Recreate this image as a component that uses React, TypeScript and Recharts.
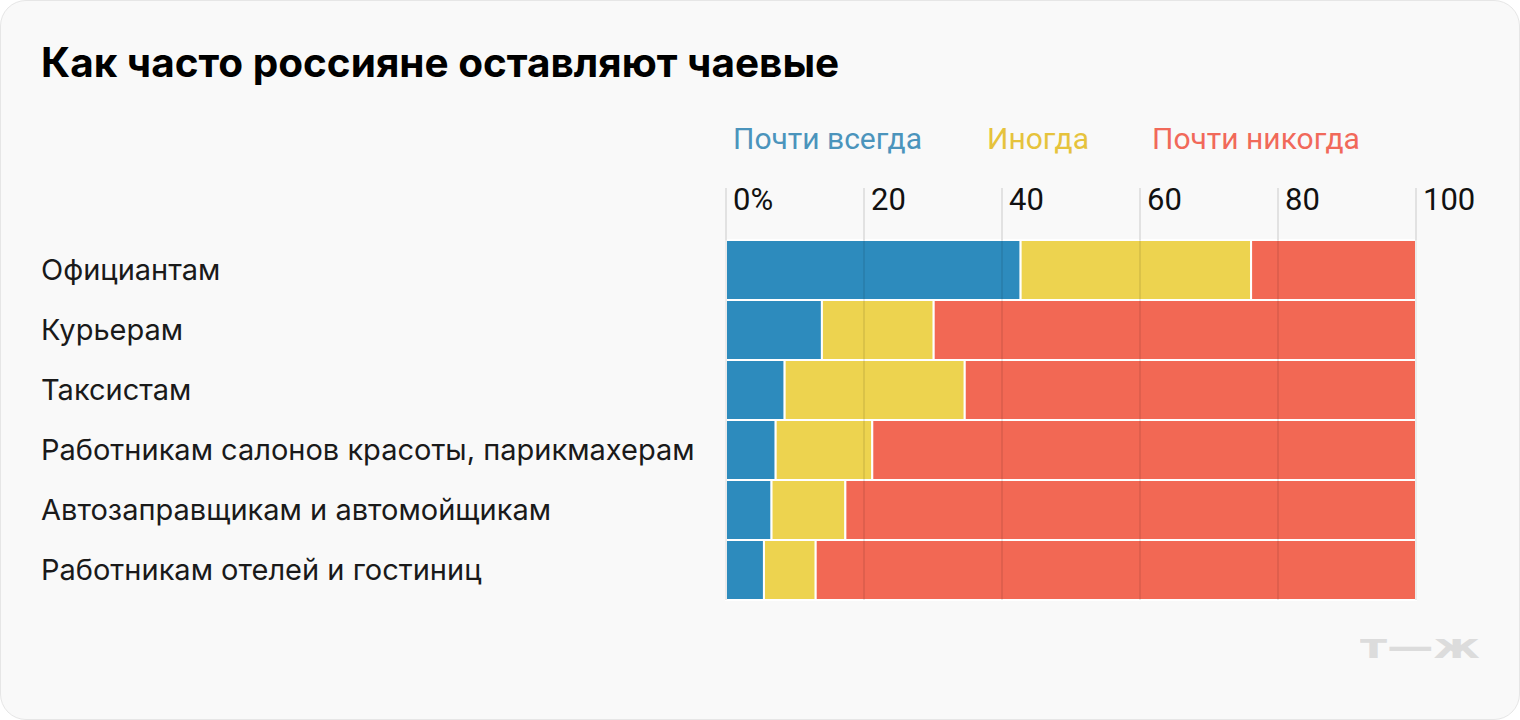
import React from 'react';
import { BarChart, Bar, XAxis, YAxis, ReferenceLine } from 'recharts';

const categories = [
  'Официантам',
  'Курьерам',
  'Таксистам',
  'Работникам салонов красоты, парикмахерам',
  'Автозаправщикам и автомойщикам',
  'Работникам отелей и гостиниц',
];
const almostAlways = [42.7, 13.9, 8.5, 7.2, 6.6, 5.5];
const sometimes = [33.4, 16.2, 26.1, 14.0, 10.7, 7.5];
const almostNever = [23.9, 69.9, 65.4, 78.8, 82.7, 87.0];
const xTicks = [0, 20, 40, 60, 80, 100];

const seriesNames = ['Почти всегда', 'Иногда', 'Почти никогда'];

const data = categories.map((name, i) => ({
  name,
  always: almostAlways[i],
  sometimes: sometimes[i],
  never: almostNever[i],
}));

const barColors = ['#2d8bbd', '#edd34f', '#f26854'];
const legendColors = ['#4b94bc', '#e6c33c', '#f1695a'];
const legendLeft = [733, 987, 1152];

const XTick = (props: any) => {
  const { x, payload } = props;
  const label = payload.value === 0 ? '0%' : String(payload.value);
  return (
    <g>
      <line x1={x} x2={x} y1={188} y2={240} stroke="#e2e2e2" strokeWidth={2} />
      <text x={x + 7} y={210} fontFamily="Roboto" fontSize={31} fill="#111" textAnchor="start">
        {label}
      </text>
    </g>
  );
};

const YTick = (props: any) => {
  const { y, payload } = props;
  return (
    <text x={41} y={y + 10} fontFamily="Inter" fontSize={29} fill="#1a1a1a" textAnchor="start">
      {payload.value}
    </text>
  );
};

const App: React.FC = () => {
  return (
    <div style={{ position: 'relative', width: 1520, height: 720 }}>
      <style>{`body{margin:0}`}</style>
      <div
        style={{
          position: 'absolute',
          inset: 0,
          boxSizing: 'border-box',
          border: '1px solid #e6e6e6',
          borderRadius: 26,
          background: '#f9f9f9',
        }}
      />
      <div
        style={{
          position: 'absolute',
          left: 41,
          top: 38,
          fontFamily: 'Inter',
          fontWeight: 700,
          fontSize: 40.5,
          color: '#000',
        }}
      >
        Как часто россияне оставляют чаевые
      </div>
      {seriesNames.map((s, i) => (
        <div
          key={s}
          style={{
            position: 'absolute',
            left: legendLeft[i],
            top: 121,
            fontFamily: 'Roboto',
            fontSize: 30,
            lineHeight: '36px',
            color: legendColors[i],
            whiteSpace: 'nowrap',
          }}
        >
          {s}
        </div>
      ))}
      <div style={{ position: 'absolute', left: 0, top: 0 }}>
        <BarChart
          width={1520}
          height={720}
          data={data}
          layout="vertical"
          barCategoryGap={0}
          margin={{ top: 188, right: 104, bottom: 120, left: 0 }}
        >
          <XAxis
            type="number"
            orientation="top"
            domain={[0, 100]}
            ticks={xTicks}
            axisLine={false}
            tickLine={false}
            height={52}
            tick={<XTick />}
            interval={0}
          />
          <YAxis
            type="category"
            dataKey="name"
            width={726}
            axisLine={false}
            tickLine={false}
            tick={<YTick />}
            interval={0}
          />
          <Bar dataKey="always" name={seriesNames[0]} stackId="a" fill={barColors[0]} stroke="#fff" strokeWidth={2} isAnimationActive={false} />
          <Bar dataKey="sometimes" name={seriesNames[1]} stackId="a" fill={barColors[1]} stroke="#fff" strokeWidth={2} isAnimationActive={false} />
          <Bar dataKey="never" name={seriesNames[2]} stackId="a" fill={barColors[2]} stroke="#fff" strokeWidth={2} isAnimationActive={false} />
          {xTicks.map((t) => (
            <ReferenceLine key={t} x={t} stroke="rgba(0,0,0,0.08)" strokeWidth={2} />
          ))}
        </BarChart>
      </div>
      <div
        style={{
          position: 'absolute',
          left: 1360,
          top: 626,
          fontFamily: 'DejaVu Sans',
          fontWeight: 700,
          fontSize: 34,
          color: '#dcdcdc',
          transform: 'scaleX(1.37)',
          transformOrigin: 'left top',
        }}
      >
        т—ж
      </div>
    </div>
  );
};

export default App;
